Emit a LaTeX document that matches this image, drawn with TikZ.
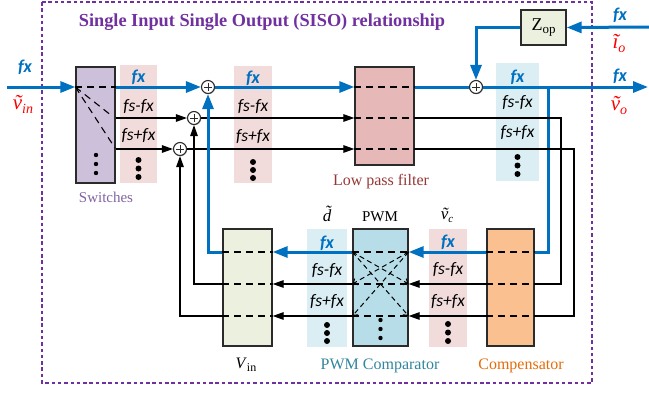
\documentclass[tikz,border=0pt]{standalone}
\usepackage{fontspec}
\setmainfont{Liberation Serif}
\newfontfamily\calib{Carlito}
\usetikzlibrary{arrows.meta,shadows}
\definecolor{myblue}{HTML}{0070C0}
\definecolor{mypurple}{HTML}{7030A0}
\definecolor{swfill}{HTML}{CCC0DA}
\definecolor{lpffill}{HTML}{E6B9B8}
\definecolor{greenfill}{HTML}{EBF1DE}
\definecolor{pwmfill}{HTML}{B7DEE8}
\definecolor{compfill}{HTML}{FAC090}
\definecolor{pinkcol}{HTML}{F2DCDB}
\definecolor{bluecol}{HTML}{DAEEF3}
\definecolor{swtext}{HTML}{8064A2}
\definecolor{lpftext}{HTML}{953735}
\definecolor{pwmtext}{HTML}{31859C}
\definecolor{comptext}{HTML}{E46C0A}
\definecolor{boxborder}{HTML}{2B2B2B}
\definecolor{myred}{HTML}{FF0000}
\tikzset{
  frame/.style={draw=mypurple, line width=2.4pt, dash pattern=on 3.5pt off 2.8pt},
  box/.style={draw=boxborder, line width=1.3pt, inner sep=0pt},
  col/.style={inner sep=0pt, draw=none},
  adder/.style={circle, draw=boxborder, line width=1.1pt, fill=white, minimum size=13pt, inner sep=0pt,
     drop shadow={shadow xshift=0.8pt, shadow yshift=-0.8pt, opacity=0.35},
     path picture={\draw[line width=0.9pt] (path picture bounding box.center) +(-3.8,0) -- +(3.8,0) +(0,-3.8) -- +(0,3.8);}},
  bl/.style={draw=myblue, line width=3pt},
  bla/.style={bl, -{Triangle[length=15pt,width=11pt]}},
  bk/.style={draw=black, line width=1.2pt},
  bka/.style={bk, -{Triangle[length=11pt,width=7.5pt]}},
  inner/.style={draw=black, line width=1.1pt, dash pattern=on 7pt off 5pt},
  pwmdiag/.style={draw=black, line width=1pt, dash pattern=on 5pt off 3.5pt, -{Straight Barb[length=4pt,width=7pt]}},
  lab/.style={inner sep=0pt, font=\calib\itshape\fontsize{17.5}{17.5}\selectfont},
  lbx/.style={inner sep=0pt, text=myblue, font=\calib\bfseries\itshape\fontsize{18}{18}\selectfont},
  serif/.style={inner sep=0pt, font=\fontsize{16}{16}\selectfont},
  ttl/.style={inner sep=0pt, text=mypurple, font=\bfseries\fontsize{18.3}{18.3}\selectfont},
  redv/.style={inner sep=0pt, text=myred, font=\itshape\fontsize{21}{21}\selectfont},
}
\begin{document}
\begin{tikzpicture}[x=1pt,y=-1pt]
\useasboundingbox (0,0) rectangle (649,392);
% frame
\draw[frame] (42,2) rectangle (592,383);
\node[ttl] (title) at (262,22) {Single Input Single Output (SISO) relationship};

% row coordinates
\coordinate (r1) at (0,87);
\coordinate (r2) at (0,118);
\coordinate (r3) at (0,149);
\coordinate (r4) at (0,252);
\coordinate (r5) at (0,284);
\coordinate (r6) at (0,316);

% shaded columns
\node[col, fill=pinkcol, minimum width=37pt, minimum height=118pt] (c1) at (138.5,124) {};
\node[col, fill=pinkcol, minimum width=38pt, minimum height=117pt] (c2) at (253,124.5) {};
\node[col, fill=bluecol, minimum width=43pt, minimum height=118pt] (c3) at (517.5,122) {};
\node[col, fill=bluecol, minimum width=40pt, minimum height=118pt] (c4) at (327,288) {};
\node[col, fill=pinkcol, minimum width=38pt, minimum height=118pt] (c5) at (448,288) {};

% boxes
\node[box, fill=swfill, minimum width=39pt, minimum height=116pt] (sw) at (95.5,125) {};
\node[box, fill=lpffill, minimum width=59pt, minimum height=98pt] (lpf) at (384.5,116) {};
\node[box, fill=greenfill, minimum width=45pt, minimum height=35pt, font=\fontsize{18}{18}\selectfont] (zop) at (543.5,27.5) {Z\raisebox{-3pt}{\fontsize{13}{13}\selectfont op}};
\node[box, fill=greenfill, minimum width=49pt, minimum height=117pt] (vin) at (247.5,287.5) {};
\node[box, fill=pwmfill, minimum width=55pt, minimum height=117pt] (pwm) at (380.5,287.5) {};
\node[box, fill=compfill, minimum width=47pt, minimum height=117pt] (comp) at (510.5,287.5) {};

% inner dashed lines
\draw[inner] (sw.west |- r1) -- (sw.east |- r1);
\draw[inner] (sw.west |- r1) -- (112,116);
\draw[inner] (sw.west |- r1) -- (115,148);
\foreach \r in {r1,r2,r3} \draw[inner] (lpf.west |- \r) -- (lpf.east |- \r);
\foreach \r in {r4,r5,r6} {
  \draw[inner] (vin.west |- \r) -- (vin.east |- \r);
  \draw[inner] (pwm.west |- \r) -- (pwm.east |- \r);
  \draw[inner] (comp.west |- \r) -- (comp.east |- \r);
}
\draw[pwmdiag] (pwm.west |- r4) -- (pwm.east |- r5);
\draw[pwmdiag] (pwm.west |- r4) -- (pwm.east |- r6);
\draw[pwmdiag] (pwm.east |- r4) -- (pwm.west |- r5);
\draw[pwmdiag] (pwm.east |- r4) -- (pwm.west |- r6);

% adders
\node[adder] (a1) at (208,87) {};
\node[adder] (a2) at (194,118) {};
\node[adder] (a3) at (180,149) {};
\node[adder] (a4) at (476,87) {};

% free ends
\coordinate (vinin) at (7,87);
\coordinate (vout) at (648,87);
\coordinate (ioin) at (649,27);
\coordinate (br) at (548,87);
\coordinate (k2) at (561,118);
\coordinate (k3) at (574,149);
\coordinate (f1) at (208,252);
\coordinate (f2) at (194,284);
\coordinate (f3) at (180,316);

% top path
\draw[bla] (vinin) -- (sw.west |- r1);
\draw[bla] (sw.east |- r1) -- (a1);
\draw[bka] (sw.east |- r2) -- (a2);
\draw[bka] (sw.east |- r3) -- (a3);
\draw[bla] (a1) -- (lpf.west |- r1);
\draw[bka] (a2) -- (lpf.west |- r2);
\draw[bka] (a3) -- (lpf.west |- r3);
\draw[bl] (lpf.east |- r1) -- (a4);
\draw[bla] (a4) -- (vout);
\draw[bla] (ioin) -- (zop.east);
\draw[bla] (zop.west) -- (a4 |- zop.west) -- (a4.north);

% branch to compensator
\draw[bl] (br) -- (br |- r4) -- (comp.east |- r4);
\draw[bk] (lpf.east |- r2) -- (k2) -- (k2 |- r5) -- (comp.east |- r5);
\draw[bk] (lpf.east |- r3) -- (k3) -- (k3 |- r6) -- (comp.east |- r6);

% bottom path
\draw[bla] (comp.west |- r4) -- (pwm.east |- r4);
\draw[bka] (comp.west |- r5) -- (pwm.east |- r5);
\draw[bka] (comp.west |- r6) -- (pwm.east |- r6);
\draw[bla] (pwm.west |- r4) -- (vin.east |- r4);
\draw[bka] (pwm.west |- r5) -- (vin.east |- r5);
\draw[bka] (pwm.west |- r6) -- (vin.east |- r6);

% feedback to adders
\draw[bla] (vin.west |- r4) -- (f1) -- (a1.south);
\draw[bka] (vin.west |- r5) -- (f2) -- (a2.south);
\draw[bka] (vin.west |- r6) -- (f3) -- (a3.south);

% column labels
\node[lbx] (l1a) at (138.5,77) {fx};
\node[lab] (l1b) at (138.5,107) {fs-fx};
\node[lab] (l1c) at (138.5,136) {fs+fx};
\node[lbx] (l2a) at (253,78) {fx};
\node[lab] (l2b) at (253,107) {fs-fx};
\node[lab] (l2c) at (253,137) {fs+fx};
\node[lbx] (l3a) at (517.5,77) {fx};
\node[lab] (l3b) at (517.5,103) {fs-fx};
\node[lab] (l3c) at (517.5,133) {fs+fx};
\node[lbx] (l4a) at (327,243) {fx};
\node[lab] (l4b) at (327,271) {fs-fx};
\node[lab] (l4c) at (327,302) {fs+fx};
\node[lbx] (l5a) at (448,242) {fx};
\node[lab] (l5b) at (448,270) {fs-fx};
\node[lab] (l5c) at (448,302) {fs+fx};

% dots
\foreach \x/\a/\b/\c in {138.5/160/168.5/177, 253/162/170/178, 517.5/157/165.5/174, 327/325/333/341, 448/324/332.5/341}
  \fill (\x,\a) circle (3) (\x,\b) circle (3) (\x,\c) circle (3);
\foreach \x/\a/\b/\c in {96/155/164/173, 380.5/320/329/338}
  \fill (\x,\a) circle (2.2) (\x,\b) circle (2.2) (\x,\c) circle (2.2);

% outside labels
\node[lbx] (lin) at (25,67) {fx};
\node[redv] (vinl) at (23,104) {\~v\raisebox{-4pt}{\fontsize{14}{14}\selectfont in}};
\node[lbx] (lio) at (620,15) {fx};
\node[redv] (iol) at (619,43) {ĩ\raisebox{-4pt}{\fontsize{14}{14}\selectfont o}};
\node[lbx] (lvo) at (620,76) {fx};
\node[redv] (vol) at (619,105) {\~v\raisebox{-4pt}{\fontsize{14}{14}\selectfont o}};

\node[inner sep=0pt, font=\itshape\fontsize{17}{17}\selectfont] (dl) at (327,214) {\~d};
\node[inner sep=0pt, font=\fontsize{15}{15}\selectfont] (pwml) at (380,217) {PWM};
\node[inner sep=0pt, font=\itshape\fontsize{17}{17}\selectfont] (vcl) at (447,215) {\~v\raisebox{-3pt}{\fontsize{11}{11}\selectfont c}};

% box captions
\node[serif, text=swtext, font=\fontsize{15}{15}\selectfont] (swl) at (106,197) {Switches};
\node[serif, text=lpftext] (lpfl) at (381,182) {Low pass filter};
\node[serif] (vinlab) at (246,365) {\textit{V}\raisebox{-3pt}{\fontsize{12}{12}\selectfont in}};
\node[serif, text=pwmtext] (pwmc) at (380,366) {PWM Comparator};
\node[serif, text=comptext] (compl) at (521,366) {Compensator};
\end{tikzpicture}
\end{document}
